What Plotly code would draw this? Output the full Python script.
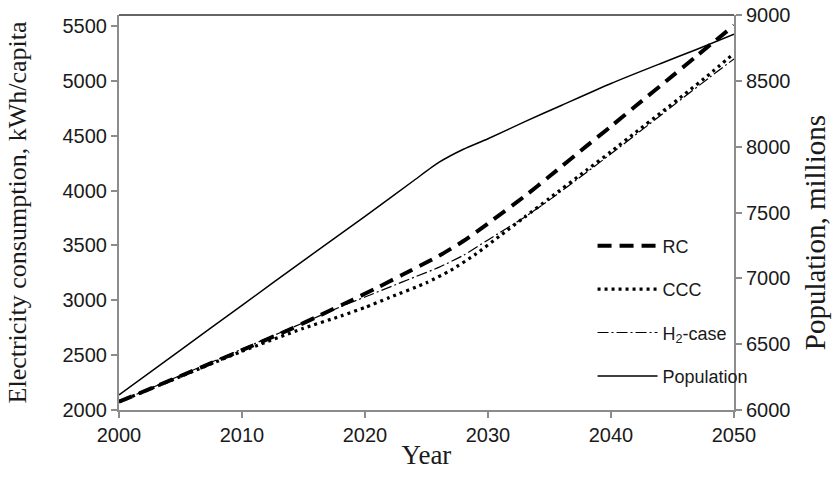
import plotly.graph_objects as go

# Electricity consumption per capita (kWh/capita) by scenario
rc_years = [2000, 2005, 2010, 2014, 2016, 2019, 2021, 2023, 2026, 2028, 2030, 2033, 2035, 2038, 2040, 2042, 2045, 2047, 2050]
rc_vals = [2075, 2310, 2545, 2740, 2845, 3005, 3115, 3230, 3405, 3540, 3700, 3950, 4130, 4405, 4585, 4770, 5045, 5230, 5505]

ccc_years = [2000, 2005, 2010, 2015, 2018, 2020, 2022, 2025, 2027, 2029, 2031, 2033, 2035, 2038, 2040, 2042, 2044, 2046, 2048, 2050]
ccc_vals = [2075, 2305, 2535, 2745, 2855, 2935, 3025, 3160, 3275, 3420, 3590, 3760, 3930, 4185, 4355, 4530, 4705, 4880, 5060, 5250]

h2_years = [2000, 2005, 2010, 2013, 2015, 2018, 2020, 2022, 2024, 2026, 2028, 2030, 2033, 2035, 2038, 2040, 2043, 2045, 2048, 2050]
h2_vals = [2075, 2315, 2555, 2700, 2795, 2940, 3030, 3120, 3210, 3300, 3410, 3550, 3760, 3915, 4165, 4335, 4595, 4770, 5030, 5200]

# World population (millions)
pop_years = [2000, 2005, 2010, 2015, 2020, 2024, 2026, 2028, 2030, 2033, 2036, 2040, 2044, 2047, 2050]
pop_vals = [6115, 6455, 6795, 7135, 7470, 7745, 7880, 7980, 8060, 8190, 8315, 8480, 8630, 8740, 8855]

left_ticks = [2000, 2500, 3000, 3500, 4000, 4500, 5000, 5500]
right_ticks = [6000, 6500, 7000, 7500, 8000, 8500, 9000]
x_ticks = [2000, 2010, 2020, 2030, 2040, 2050]

SANS = "Liberation Sans, Arial, sans-serif"
SERIF = "Liberation Serif, Times New Roman, serif"
AXIS_GREY = "#8c8c8c"
TEXT = "#1a1a1a"
TICK_SIZE = 20
TITLE_SIZE = 26

fig = go.Figure()

fig.add_trace(go.Scatter(
    x=rc_years, y=rc_vals, name="RC", mode="lines", legendgroup="a",
    line=dict(color="black", width=4, dash="14px,8px", shape="spline", smoothing=0.6),
))
fig.add_trace(go.Scatter(
    x=ccc_years, y=ccc_vals, name="CCC", mode="lines", legendgroup="b",
    line=dict(color="black", width=3.2, dash="3px,4px", shape="spline", smoothing=0.6),
))
fig.add_trace(go.Scatter(
    x=h2_years, y=h2_vals, name="H<sub>2</sub>-case", mode="lines", legendgroup="c",
    line=dict(color="black", width=1.2, dash="11px,3px,2px,3px", shape="spline", smoothing=0.6),
))
fig.add_trace(go.Scatter(
    x=pop_years, y=pop_vals, name="Population", mode="lines", legendgroup="d",
    line=dict(color="black", width=1.5, shape="spline", smoothing=0.6), yaxis="y2",
))

axis_common = dict(
    showgrid=False, zeroline=False, automargin=False,
    showline=True, linecolor=AXIS_GREY, linewidth=2,
    ticks="outside", ticklen=6, tickcolor=AXIS_GREY, tickwidth=2,
    tickfont=dict(family=SANS, size=TICK_SIZE, color=TEXT),
)

fig.update_layout(
    width=838, height=489,
    margin=dict(l=119, r=104, t=15, b=79),
    paper_bgcolor="white", plot_bgcolor="white",
    font=dict(family=SANS, size=TICK_SIZE, color=TEXT),
    showlegend=True,
    legend=dict(
        x=0.77, y=0.462, xanchor="left", yanchor="top",
        bgcolor="rgba(0,0,0,0)", font=dict(family=SANS, size=18, color=TEXT),
        traceorder="grouped", tracegroupgap=17, itemwidth=60,
    ),
    xaxis=dict(
        range=[2000, 2050], tickvals=x_ticks, **axis_common,
        title=dict(text="Year", font=dict(family=SERIF, size=27, color=TEXT), standoff=0),
    ),
    yaxis=dict(
        range=[2000, 5600], tickvals=left_ticks, **axis_common,
        title=dict(text="Electricity consumption, kWh/capita",
                   font=dict(family=SERIF, size=TITLE_SIZE, color=TEXT), standoff=28),
    ),
    yaxis2=dict(
        range=[6000, 9000], tickvals=right_ticks, overlaying="y", side="right",
        **axis_common,
    ),
    annotations=[dict(
        text="Population, millions", xref="paper", yref="paper",
        x=1.1317, y=0.45, xanchor="center", yanchor="middle",
        textangle=-90, showarrow=False,
        font=dict(family=SERIF, size=29, color=TEXT),
    )],
    shapes=[dict(type="line", xref="paper", yref="paper", x0=0, x1=1, y0=1, y1=1,
                 line=dict(color="#333333", width=1.5))],
)

fig.write_html("out.html")
